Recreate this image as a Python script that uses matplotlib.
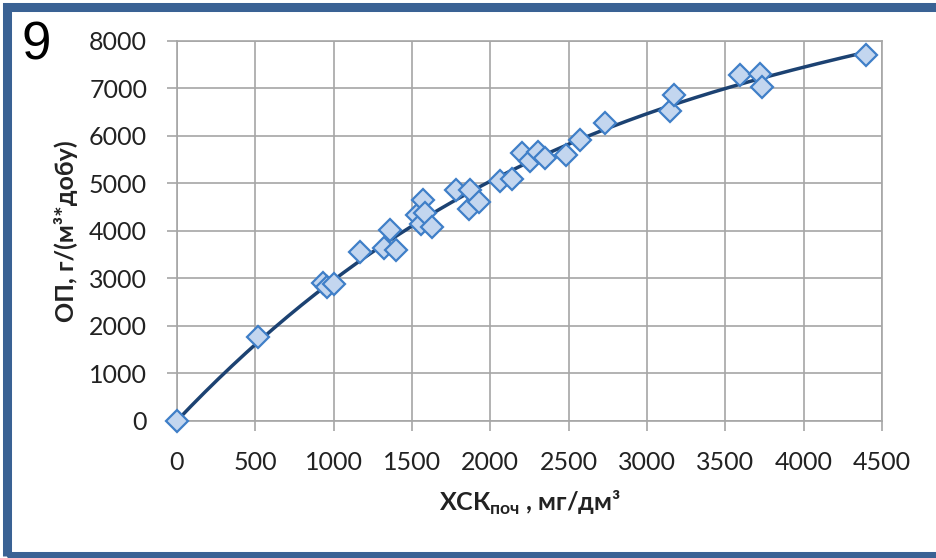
import numpy as np
import matplotlib
matplotlib.use("Agg")
import matplotlib.pyplot as plt
from matplotlib.patches import Rectangle

# values
xsk = [0, 520, 930, 960, 1005, 1170, 1320, 1360, 1400, 1530, 1560, 1570, 1580,
       1625, 1780, 1865, 1870, 1925, 2063, 2140, 2200, 2255, 2305, 2350, 2480,
       2575, 2735, 3145, 3170, 3595, 3720, 3735, 4395]
op = [0, 1760, 2890, 2820, 2870, 3560, 3640, 4010, 3600, 4330, 4150, 4640, 4380,
      4070, 4857, 4460, 4850, 4610, 5050, 5090, 5630, 5460, 5660, 5530, 5600,
      5910, 6260, 6530, 6850, 7270, 7300, 7020, 7700]

xticks = [0, 500, 1000, 1500, 2000, 2500, 3000, 3500, 4000, 4500]
yticks = [0, 1000, 2000, 3000, 4000, 5000, 6000, 7000, 8000]

plt.rcParams['font.family'] = ['Lato', 'DejaVu Sans']
plt.rcParams['mathtext.fontset'] = 'custom'
plt.rcParams['mathtext.rm'] = 'Lato'
plt.rcParams['mathtext.bf'] = 'Lato:bold'

W, H = 937, 558
fig = plt.figure(figsize=(W / 100, H / 100), dpi=100)
ax = fig.add_axes([177 / W, 1 - 420.7 / H, (882 - 177) / W, (420.7 - 40.7) / H])

# 3rd order trend through the origin (Excel style, intercept = 0)
xa = np.array(xsk, float)
A = np.column_stack([xa, xa ** 2, xa ** 3])
c, *_ = np.linalg.lstsq(A, np.array(op, float), rcond=None)
xx = np.linspace(0, xa.max(), 200)
ax.plot(xx, c[0] * xx + c[1] * xx ** 2 + c[2] * xx ** 3, color='#1C4272',
        lw=2.5, zorder=3, clip_on=False)
ax.plot(xsk, op, 'D', ms=11, mfc='#C3D6EF', mec='#3F7FC8', mew=1.6, zorder=4,
        clip_on=False)

ax.set_xlim(0, 4500)
ax.set_ylim(0, 8000)
ax.set_xticks(xticks)
ax.set_yticks(yticks)
ax.grid(True, color='#A6A6A6', lw=1.2)
ax.set_axisbelow(True)
for s in ax.spines.values():
    s.set_color('#A6A6A6')
    s.set_linewidth(1.2)
ax.tick_params(axis='both', length=7.5, width=1.2, color='#A6A6A6',
               labelsize=18, labelcolor='#222222')
ax.tick_params(axis='y', pad=14)
ax.tick_params(axis='x', pad=14)

fig.text(66 / W, 1 - 231 / H, 'ОП, г/(м³*добу)', rotation=90, ha='center',
         va='center', fontsize=18, fontweight='bold', color='#222222')
fig.text(530 / W, 1 - 503 / H, r'ХСК$_{\mathbf{поч}}$ , мг/дм³', ha='center',
         va='center', fontsize=18, fontweight='bold', color='#222222')
fig.text(36 / W, 1 - 45 / H, '9', ha='center', va='center', fontsize=38,
         family='Liberation Sans', color='black')

# blue frame around the picture
fig.patches.append(Rectangle((7.5 / W, 1 - 556 / H), 2, (556 - 7) / H,
                             transform=fig.transFigure, fill=False,
                             ec='#3A6294', lw=6.5))

fig.savefig('out.png', dpi=100)
